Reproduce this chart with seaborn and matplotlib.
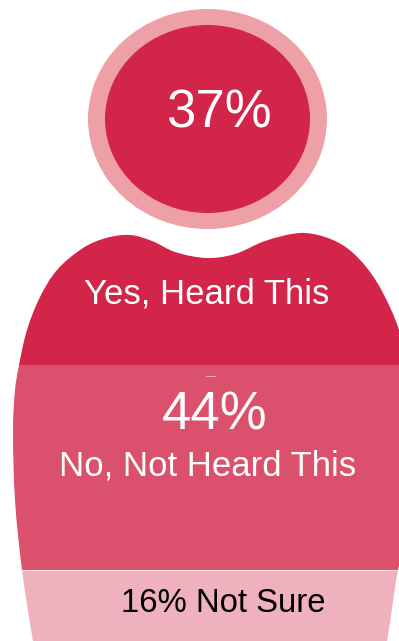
import numpy as np
import matplotlib.pyplot as plt
import seaborn as sns
from matplotlib.patches import Ellipse, PathPatch
from matplotlib.path import Path

# bands of the body, top to bottom (picture pixels)
band_names = ['Yes', 'No', 'Not sure']
band_edges = [225, 365, 570, 650]
band_colors = ['#D3244A', '#DB506C', '#EFB1BE']

# outline of the shoulders and body, clockwise from the left hump
outline_x = [130, 152, 175, 207, 235, 265, 300, 325, 347, 367, 383, 399, 410, 416, 414, 405, 398, 387, 375,
             45, 33, 22, 15, 13, 15, 19, 27, 40, 57, 83, 106]
outline_y = [235, 241, 252, 258, 254, 241, 233, 237, 248, 268, 293, 330, 380, 440, 500, 545, 570, 641, 700,
             700, 641, 570, 500, 430, 390, 365, 330, 297, 270, 248, 238]

head_center = (207.5, 119)
ring_size = (239, 220)
head_size = (205, 188)

sns.set_theme(style='white')
plt.rcParams['font.family'] = ['Liberation Sans', 'DejaVu Sans']

fig = plt.figure(figsize=(3.99, 6.41), dpi=100)
ax = fig.add_axes([0, 0, 1, 1])

# smooth closed outline, handles scaled to each segment so uneven spacing doesn't kink
pts = np.column_stack([outline_x, outline_y]).astype(float)
n = len(pts)
verts = [pts[0]]
codes = [Path.MOVETO]
for i in range(n):
    p0, p1, p2, p3 = pts[i - 1], pts[i], pts[(i + 1) % n], pts[(i + 2) % n]
    seg = np.linalg.norm(p2 - p1) / 3
    t1 = (p2 - p0) / np.linalg.norm(p2 - p0)
    t2 = (p3 - p1) / np.linalg.norm(p3 - p1)
    verts += [p1 + t1 * seg, p2 - t2 * seg, p2]
    codes += [Path.CURVE4] * 3
body = PathPatch(Path(verts, codes), facecolor='none', edgecolor='none', transform=ax.transData)

for i, name in enumerate(band_names):
    top, bottom = band_edges[i], band_edges[i + 1]
    before = len(ax.patches)
    sns.histplot(y=[(top + bottom) / 2], weights=[399], bins=[top, bottom], color=band_colors[i],
                 alpha=1, linewidth=0, ax=ax)
    for bar in ax.patches[before:]:
        bar.set_clip_path(body)

ax.axhline(570, color='#F7DCE1', lw=0.8, zorder=3, clip_path=body)

ax.add_patch(Ellipse(head_center, *ring_size, facecolor='#EEA0A7', edgecolor='none'))
ax.add_patch(Ellipse(head_center, *head_size, facecolor='#D3244A', edgecolor='none'))

ax.set_xlim(0, 399)
ax.set_ylim(641, 0)
ax.axis('off')

ax.text(218.5, 114, '37%', color='white', fontsize=38, ha='center', va='center')
ax.text(206.5, 294, 'Yes, Heard This', color='white', fontsize=25, ha='center', va='center')
ax.text(211, 376, '—', color='#F2C4CE', fontsize=7, ha='center', va='center')
ax.text(214.5, 415, '44%', color='white', fontsize=38, ha='center', va='center')
ax.text(207.5, 466, 'No, Not Heard This', color='white', fontsize=25, ha='center', va='center')
ax.text(223, 604, '16% Not Sure', color='black', fontsize=23.7, ha='center', va='center')

fig.savefig('out.png', dpi=100)
